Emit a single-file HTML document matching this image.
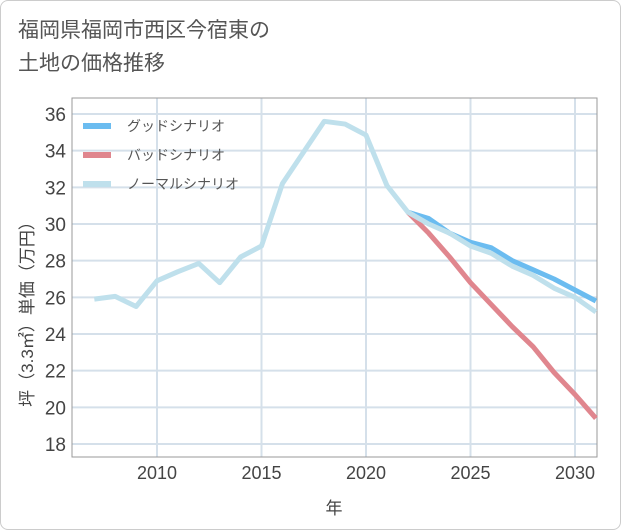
<!DOCTYPE html>
<html><head><meta charset="utf-8"><style>
body{margin:0;background:#fff;}
#card{position:absolute;left:0;top:0;width:619px;height:528px;border:1px solid #ccc;border-radius:8px;background:#fff;}
#title{position:absolute;left:18px;top:14px;font:21px/33px "Liberation Sans","Noto Sans CJK JP",sans-serif;color:#555;}
svg{position:absolute;left:0;top:0;}
</style></head><body>
<div id="card"></div>
<div id="title">福岡県福岡市西区今宿東の<br>土地の価格推移</div>
<svg id="chart" width="621" height="530"></svg>
<script>
const years=[2007,2008,2009,2010,2011,2012,2013,2014,2015,2016,2017,2018,2019,2020,2021,2022,2023,2024,2025,2026,2027,2028,2029,2030,2031];
const normal=[25.9,26.05,25.5,26.9,27.4,27.85,26.8,28.2,28.8,32.2,33.9,35.6,35.45,34.85,32.1,30.65,30.0,29.5,28.8,28.4,27.7,27.2,26.5,26.0,25.2];
const futureYears=[2022,2023,2024,2025,2026,2027,2028,2029,2030,2031];
const good=[30.65,30.3,29.5,29.0,28.7,28.0,27.5,27.0,26.4,25.8];
const bad=[30.65,29.5,28.2,26.8,25.6,24.4,23.3,21.9,20.7,19.4];
const yTicks=[18,20,22,24,26,28,30,32,34,36];
const xTicks=[2010,2015,2020,2025,2030];
const L=72,R=597,T=98,B=457;
const x=v=>157+(v-2010)*20.9;
const y=v=>114+(36-v)*18.333;
const svg=document.getElementById('chart');
const NS='http://www.w3.org/2000/svg';
function mk(t,a){const e=document.createElementNS(NS,t);for(const k in a)e.setAttribute(k,a[k]);svg.appendChild(e);return e;}
yTicks.forEach(v=>{
 const g=mk('line',{x1:L,x2:R,y1:y(v),y2:y(v),stroke:'#d5e0ea','stroke-width':2});
 
 
 const t=mk('text',{x:66,y:y(v)+7,'text-anchor':'end','font-size':19,fill:'#444','font-family':'Liberation Sans,sans-serif'});
 t.textContent=v;
 
 
});
xTicks.forEach(v=>{
 const g=mk('line',{x1:x(v),x2:x(v),y1:T,y2:B,stroke:'#d5e0ea','stroke-width':2});
 
 
 const t=mk('text',{x:x(v),y:479,'text-anchor':'middle','font-size':18,fill:'#444','font-family':'Liberation Sans,sans-serif'});
 t.textContent=v;
 
 
});
const fr=mk('rect',{x:L,y:T,width:R-L,height:B-T,fill:'none',stroke:'#999','stroke-width':1});


function line(xs,ys,c,n){const p=mk('polyline',{points:xs.map((v,i)=>x(v)+','+y(ys[i])).join(' '),fill:'none',stroke:c,'stroke-width':5,'stroke-linejoin':'round'});
 
 }
line(futureYears,good,'#6bbcf0','good-scenario-line');
line(futureYears,bad,'#e0868e','bad-scenario-line');
line(years,normal,'#bfe0ec','normal-scenario-line');
const leg=[['グッドシナリオ','#6bbcf0'],['バッドシナリオ','#e0868e'],['ノーマルシナリオ','#bfe0ec']];
leg.forEach((l,i)=>{const yy=126+i*29;
 const s=mk('line',{x1:83,x2:111,y1:yy,y2:yy,stroke:l[1],'stroke-width':6});
 
 
 const t=mk('text',{x:127,y:yy+5,'font-size':14,fill:'#555','font-family':'Liberation Sans,Noto Sans CJK JP,sans-serif'});
 t.textContent=l[0];
 
 
});
const xt=mk('text',{x:334,y:514,'text-anchor':'middle','font-size':17,fill:'#444','font-family':'Liberation Sans,Noto Sans CJK JP,sans-serif'});
xt.textContent='年';


const yt=mk('text',{x:0,y:0,'text-anchor':'middle','font-size':17,fill:'#444','font-family':'Liberation Sans,Noto Sans CJK JP,sans-serif',transform:'translate(33,310) rotate(-90)'});
yt.textContent='坪（3.3㎡）単価（万円）';


</script>
</body></html>
